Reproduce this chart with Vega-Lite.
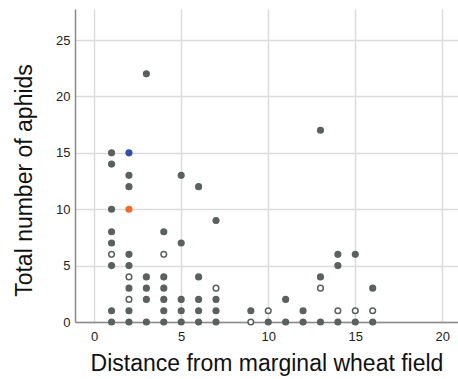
{
  "$schema": "https://vega.github.io/schema/vega-lite/v6.json",
  "width": 383,
  "height": 313,
  "autosize": "none",
  "padding": {"left": 75, "top": 9, "right": 0, "bottom": 57},
  "background": "white",
  "config": {
    "view": {"stroke": null},
    "font": "Liberation Sans"
  },
  "data": {
    "values": [
      {"x": 1, "y": 15, "t": "filled"}, {"x": 1, "y": 14, "t": "filled"}, {"x": 1, "y": 10, "t": "filled"}, {"x": 1, "y": 8, "t": "filled"}, {"x": 1, "y": 7, "t": "filled"}, {"x": 1, "y": 6, "t": "open"}, {"x": 1, "y": 5, "t": "filled"}, {"x": 1, "y": 1, "t": "filled"}, {"x": 1, "y": 0, "t": "filled"},
      {"x": 2, "y": 15, "t": "blue"}, {"x": 2, "y": 13, "t": "filled"}, {"x": 2, "y": 12, "t": "filled"}, {"x": 2, "y": 10, "t": "orange"}, {"x": 2, "y": 6, "t": "filled"}, {"x": 2, "y": 5, "t": "filled"}, {"x": 2, "y": 4, "t": "open"}, {"x": 2, "y": 3, "t": "filled"}, {"x": 2, "y": 2, "t": "open"}, {"x": 2, "y": 1, "t": "filled"}, {"x": 2, "y": 0, "t": "filled"},
      {"x": 3, "y": 22, "t": "filled"}, {"x": 3, "y": 4, "t": "filled"}, {"x": 3, "y": 3, "t": "filled"}, {"x": 3, "y": 2, "t": "filled"}, {"x": 3, "y": 0, "t": "filled"},
      {"x": 4, "y": 8, "t": "filled"}, {"x": 4, "y": 6, "t": "open"}, {"x": 4, "y": 4, "t": "filled"}, {"x": 4, "y": 3, "t": "filled"}, {"x": 4, "y": 2, "t": "filled"}, {"x": 4, "y": 1, "t": "filled"}, {"x": 4, "y": 0, "t": "filled"},
      {"x": 5, "y": 13, "t": "filled"}, {"x": 5, "y": 7, "t": "filled"}, {"x": 5, "y": 2, "t": "filled"}, {"x": 5, "y": 1, "t": "filled"}, {"x": 5, "y": 0, "t": "filled"},
      {"x": 6, "y": 12, "t": "filled"}, {"x": 6, "y": 4, "t": "filled"}, {"x": 6, "y": 2, "t": "filled"}, {"x": 6, "y": 1, "t": "filled"}, {"x": 6, "y": 0, "t": "filled"},
      {"x": 7, "y": 9, "t": "filled"}, {"x": 7, "y": 3, "t": "open"}, {"x": 7, "y": 2, "t": "filled"}, {"x": 7, "y": 1, "t": "filled"}, {"x": 7, "y": 0, "t": "filled"},
      {"x": 9, "y": 1, "t": "filled"}, {"x": 9, "y": 0, "t": "open"},
      {"x": 10, "y": 1, "t": "open"}, {"x": 10, "y": 0, "t": "filled"},
      {"x": 11, "y": 2, "t": "filled"}, {"x": 11, "y": 0, "t": "filled"},
      {"x": 12, "y": 1, "t": "filled"}, {"x": 12, "y": 0, "t": "filled"},
      {"x": 13, "y": 17, "t": "filled"}, {"x": 13, "y": 4, "t": "filled"}, {"x": 13, "y": 3, "t": "open"}, {"x": 13, "y": 0, "t": "filled"},
      {"x": 14, "y": 6, "t": "filled"}, {"x": 14, "y": 5, "t": "filled"}, {"x": 14, "y": 1, "t": "open"}, {"x": 14, "y": 0, "t": "filled"},
      {"x": 15, "y": 6, "t": "filled"}, {"x": 15, "y": 1, "t": "open"}, {"x": 15, "y": 0, "t": "filled"},
      {"x": 16, "y": 3, "t": "filled"}, {"x": 16, "y": 1, "t": "open"}, {"x": 16, "y": 0, "t": "filled"}
    ]
  },
  "mark": {"type": "point", "filled": true, "size": 32, "strokeWidth": 1.5, "opacity": 1},
  "encoding": {
    "x": {
      "field": "x", "type": "quantitative",
      "scale": {"domain": [-1.1, 20.9], "nice": false, "zero": false},
      "axis": {
        "values": [0, 5, 10, 15, 20],
        "title": "Distance from marginal wheat field",
        "titleFontSize": 23, "titleFontWeight": "normal", "titleColor": "#111",
        "titlePadding": 9,
        "labelFontSize": 13, "labelColor": "#222", "labelPadding": 8,
        "ticks": false,
        "domainColor": "#8a8a8a", "domainWidth": 1.5,
        "gridColor": "#dcdcdc", "gridWidth": 1.5
      }
    },
    "y": {
      "field": "y", "type": "quantitative",
      "scale": {"domain": [0, 27.75], "nice": false},
      "axis": {
        "values": [0, 5, 10, 15, 20, 25],
        "title": "Total number of aphids",
        "titleFontSize": 23, "titleFontWeight": "normal", "titleColor": "#111",
        "titleX": -51, "titleY": 171, "titleBaseline": "middle", "titleAngle": -90,
        "labelFontSize": 13, "labelColor": "#222", "labelPadding": 5,
        "ticks": false,
        "domainColor": "#8a8a8a", "domainWidth": 1.5,
        "gridColor": "#dcdcdc", "gridWidth": 1.5
      }
    },
    "fill": {
      "field": "t", "type": "nominal",
      "scale": {"domain": ["filled", "open", "blue", "orange"], "range": ["#5a615f", "#ffffff", "#2e50a8", "#f26b2c"]},
      "legend": null
    },
    "stroke": {
      "field": "t", "type": "nominal",
      "scale": {"domain": ["filled", "open", "blue", "orange"], "range": ["#5a615f", "#5a615f", "#2e50a8", "#f26b2c"]},
      "legend": null
    }
  }
}
